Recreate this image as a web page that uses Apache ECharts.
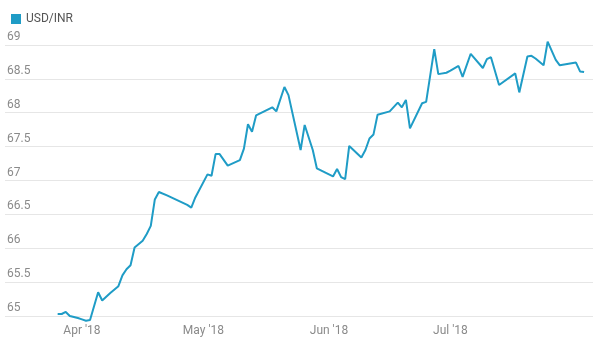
<!DOCTYPE html>
<html>
<head>
<meta charset="utf-8">
<script src="https://cdn.jsdelivr.net/npm/echarts@6/dist/echarts.min.js"></script>
<style>
html,body{margin:0;padding:0;background:#fff;}
#chart{width:602px;height:347px;}
</style>
</head>
<body>
<div id="chart"></div>
<script>
const seriesName = 'USD/INR';
const dates = ['2018-03-26','2018-03-27','2018-03-28','2018-03-29','2018-03-31','2018-04-01','2018-04-02','2018-04-03','2018-04-05','2018-04-06','2018-04-08','2018-04-10','2018-04-11','2018-04-12','2018-04-13','2018-04-14','2018-04-16','2018-04-17','2018-04-18','2018-04-19','2018-04-20','2018-04-22','2018-04-27','2018-04-28','2018-04-29','2018-05-02','2018-05-03','2018-05-04','2018-05-05','2018-05-07','2018-05-10','2018-05-11','2018-05-12','2018-05-13','2018-05-14','2018-05-18','2018-05-19','2018-05-21','2018-05-22','2018-05-25','2018-05-26','2018-05-28','2018-05-29','2018-06-02','2018-06-03','2018-06-04','2018-06-05','2018-06-06','2018-06-09','2018-06-10','2018-06-11','2018-06-12','2018-06-13','2018-06-16','2018-06-18','2018-06-19','2018-06-20','2018-06-21','2018-06-24','2018-06-25','2018-06-27','2018-06-28','2018-06-30','2018-07-01','2018-07-03','2018-07-04','2018-07-06','2018-07-09','2018-07-10','2018-07-11','2018-07-13','2018-07-17','2018-07-18','2018-07-20','2018-07-21','2018-07-22','2018-07-24','2018-07-25','2018-07-27','2018-07-28','2018-08-01','2018-08-02','2018-08-03'];
const values = [65.03,65.03,65.06,65.0,64.97,64.95,64.93,64.94,65.35,65.23,65.34,65.44,65.6,65.69,65.75,66.01,66.11,66.21,66.33,66.72,66.83,66.78,66.64,66.6,66.75,67.09,67.07,67.39,67.39,67.22,67.3,67.47,67.83,67.72,67.96,68.08,68.02,68.38,68.26,67.45,67.82,67.45,67.18,67.06,67.17,67.05,67.02,67.51,67.34,67.45,67.62,67.68,67.97,68.02,68.15,68.08,68.19,67.77,68.14,68.16,68.94,68.57,68.59,68.62,68.69,68.53,68.87,68.66,68.79,68.82,68.41,68.58,68.3,68.83,68.84,68.8,68.7,69.05,68.78,68.7,68.74,68.61,68.6];
const monthTicks = ['2018-04-01','2018-05-01','2018-06-01','2018-07-01'];
const monthLabels = ["Apr '18","May '18","Jun '18","Jul '18"];
const yTicks = [65,65.5,66,66.5,67,67.5,68,68.5,69];

function ts(s){ const p = s.split('-').map(Number); return Date.UTC(p[0], p[1]-1, p[2]); }
const DAY = 86400000;
const monthTs = monthTicks.map(ts);
const xMin = monthTs[0] - 19.0 * DAY;
const xMax = monthTs[0] + 126.2 * DAY;

const chart = echarts.init(document.getElementById('chart'), null, {renderer:'canvas'});
chart.setOption({
  animation: false,
  textStyle: { fontFamily: 'Roboto' },
  legend: {
    show: true, left: 6, top: 8, icon: 'rect', itemWidth: 10, itemHeight: 10,
    textStyle: { fontSize: 12, color: '#555', fontFamily: 'Roboto' },
    data: [seriesName]
  },
  grid: { left: 5, right: 9, top: 38.2, bottom: 24.2, containLabel: false },
  xAxis: {
    type: 'value', min: xMin, max: xMax,
    axisLine: { show: false }, axisTick: { show: false, customValues: monthTs },
    splitLine: { show: false },
    axisLabel: {
      customValues: monthTs, color: '#8a8a8a', fontSize: 12, fontFamily: 'Roboto', margin: 2,
      formatter: function(v){ const i = monthTs.indexOf(v); return i >= 0 ? monthLabels[i] : ''; }
    }
  },
  yAxis: {
    type: 'value', min: 64.9, max: 69.1,
    axisLine: { show: false },
    axisTick: { show: false, customValues: yTicks },
    splitLine: { show: true, lineStyle: { color: '#e6e6e6', width: 1 } },
    axisLabel: {
      customValues: yTicks, inside: true, margin: 2, verticalAlign: 'bottom', padding: [0,0,2,0],
      color: '#8a8a8a', fontSize: 12, fontFamily: 'Roboto'
    }
  },
  series: [{
    name: seriesName, type: 'line', showSymbol: false, clip: false,
    data: dates.map((d,i) => [ts(d), values[i]]),
    itemStyle: { color: '#1f9cc6' },
    lineStyle: { color: '#1f9cc6', width: 2 }
  }]
});
</script>
</body>
</html>
